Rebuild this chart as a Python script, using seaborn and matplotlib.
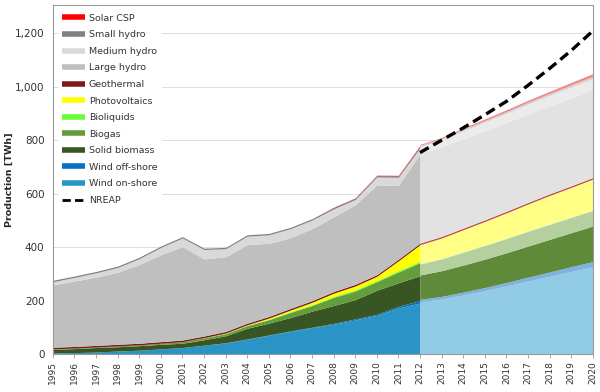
import numpy as np
import pandas as pd
import seaborn as sns
import matplotlib.pyplot as plt
from matplotlib.lines import Line2D
from matplotlib.ticker import FuncFormatter

# --- historical data 1995-2012 (TWh per source) ---
years_hist = list(range(1995, 2013))
wind_on = [6, 7, 9, 13, 16, 21, 26, 35, 43, 57, 72, 86, 100, 113, 129, 146, 174, 192]
wind_off = [0, 0, 0, 0, 0, 0, 0, 0, 1, 1, 1, 2, 2, 3, 4, 4, 6, 10]
solid_bio = [13, 15, 17, 16, 17, 17, 16, 20, 26, 40, 44, 50, 60, 67, 72, 90, 88, 92]
biogas = [2, 2, 2, 3, 3, 4, 6, 7, 8, 10, 13, 19, 21, 30, 32, 32, 40, 49]
bioliq = [0, 0, 0, 0, 0, 0, 0, 0, 1, 1, 2, 3, 3, 4, 4, 4, 5, 5]
pv = [0, 0, 0, 0, 0, 0, 0, 1, 1, 2, 4, 6, 9, 12, 15, 16, 37, 62]
geo = [6, 6, 6, 6, 6, 6, 6, 6, 6, 6, 6, 6, 6, 6, 6, 6, 6, 6]
large_hydro = [233, 244, 255, 269, 294, 324, 349, 288, 279, 293, 273, 264, 269, 279, 297, 335, 276, 332]
medium_hydro = [12, 14, 16, 18, 22, 28, 32, 35, 30, 32, 32, 34, 32, 30, 20, 30, 30, 24]
small_hydro = [5, 5, 5, 5, 5, 5, 5, 5, 5, 5, 5, 5, 5, 5, 5, 5, 5, 5]
csp = [0, 0, 0, 0, 0, 0, 0, 0, 0, 0, 0, 0, 0, 1, 1, 1.5, 2, 3.5]

# --- projection 2012-2020 ---
years_proj = list(range(2012, 2021))
p_wind_on = [197, 207, 222, 238, 256, 274, 292, 310, 328]
p_wind_off = [9, 10, 11, 12, 13, 15, 16, 18, 19]
p_solid_bio = [91, 96, 101, 106, 111, 116, 122, 127, 133]
p_biogas = [41, 44, 48, 51, 53, 55, 56, 57, 58]
p_bioliq = [2, 2, 2, 2, 2, 2, 2, 2, 2]
p_pv = [70, 76, 82, 88, 94, 100, 106, 110, 115]
p_geo = [6, 6, 6, 6, 6, 6, 6, 6, 6]
p_large_hydro = [336, 334, 333, 332, 331, 330, 329, 328, 328]
p_medium_hydro = [24, 27, 30, 33, 35, 37, 39, 41, 42]
p_small_hydro = [5, 5, 6, 6, 6, 7, 7, 8, 8]
p_csp = [3.5, 4, 5, 6, 7, 7.5, 8, 9, 10]

nreap_years = list(range(2012, 2021))
nreap = [754, 800, 846, 895, 945, 1005, 1068, 1135, 1208]

labels = ['Wind on-shore', 'Wind off-shore', 'Solid biomass', 'Biogas', 'Bioliquids',
          'Photovoltaics', 'Geothermal', 'Large hydro', 'Medium hydro', 'Small hydro', 'Solar CSP']
colors = ['#2b94c6', '#0a6fbf', '#375623', '#659c3c', '#66ff33',
          '#ffff00', '#7f1a1a', '#bfbfbf', '#d9d9d9', '#808080', '#ff0000']
proj_colors = ['#92cbe4', '#7fb2e2', '#5e8a3a', '#b6cf9f', '#c8f0b0',
               '#ffff85', '#c0504d', '#e2e2e2', '#ebebeb', '#d2d2d2', '#f08a8a']

sns.set_style("white")
plt.rcParams['font.family'] = ['DejaVu Sans']

fig = plt.figure(figsize=(6, 3.92), dpi=100)
ax = fig.add_axes([0.088, 0.0957, 0.9, 0.8915])

ax.stackplot(years_hist, wind_on, wind_off, solid_bio, biogas, bioliq, pv, geo,
             large_hydro, medium_hydro, small_hydro, csp, colors=colors, lw=0)
ax.stackplot(years_proj, p_wind_on, p_wind_off, p_solid_bio, p_biogas, p_bioliq, p_pv, p_geo,
             p_large_hydro, p_medium_hydro, p_small_hydro, p_csp, colors=proj_colors, lw=0)

nreap_df = pd.DataFrame({'year': nreap_years, 'NREAP': nreap})
sns.lineplot(data=nreap_df, x='year', y='NREAP', ax=ax, color='black',
             lw=2.4, linestyle=(0, (3, 1.6)), legend=False)

ax.set_xlim(1995, 2020)
ax.set_ylim(0, 1305)
ax.set_xticks(range(1995, 2021))
ax.set_xticklabels([str(y) for y in range(1995, 2021)], rotation=90, fontsize=6.5, color='#333333')
ax.set_yticks(range(0, 1400, 200))
ax.yaxis.set_major_formatter(FuncFormatter(lambda v, p: f"{int(v):,}"))
ax.tick_params(axis='y', labelsize=7.5, colors='#333333', length=0, pad=6)
ax.tick_params(axis='x', length=3, width=0.6, color='#999999', direction='out', pad=2, bottom=True)
ax.grid(axis='y', color='#dddddd', lw=0.7)
ax.set_axisbelow(True)
ax.set_xlabel('')
ax.set_ylabel('Production [TWh]', fontsize=6.8, fontweight='bold')
ax.yaxis.set_label_coords(-0.073, 0.5)
for s in ax.spines.values():
    s.set_color('#999999')
    s.set_linewidth(0.8)

handles = [Line2D([0], [0], color=c, lw=4, solid_capstyle='butt') for c in colors[::-1]]
handles.append(Line2D([0], [0], color='black', lw=2, linestyle=(0, (3, 1.5))))
leg = ax.legend(handles, labels[::-1] + ['NREAP'], loc='upper left', fontsize=6.8,
                frameon=True, fancybox=False, edgecolor='white', facecolor='white', framealpha=1,
                handlelength=2.4, handletextpad=0.4, labelspacing=0.8,
                borderpad=0.35, bbox_to_anchor=(0.003, 0.998))
for t in leg.get_texts():
    t.set_color('#333333')

fig.savefig('out.png', dpi=100)
